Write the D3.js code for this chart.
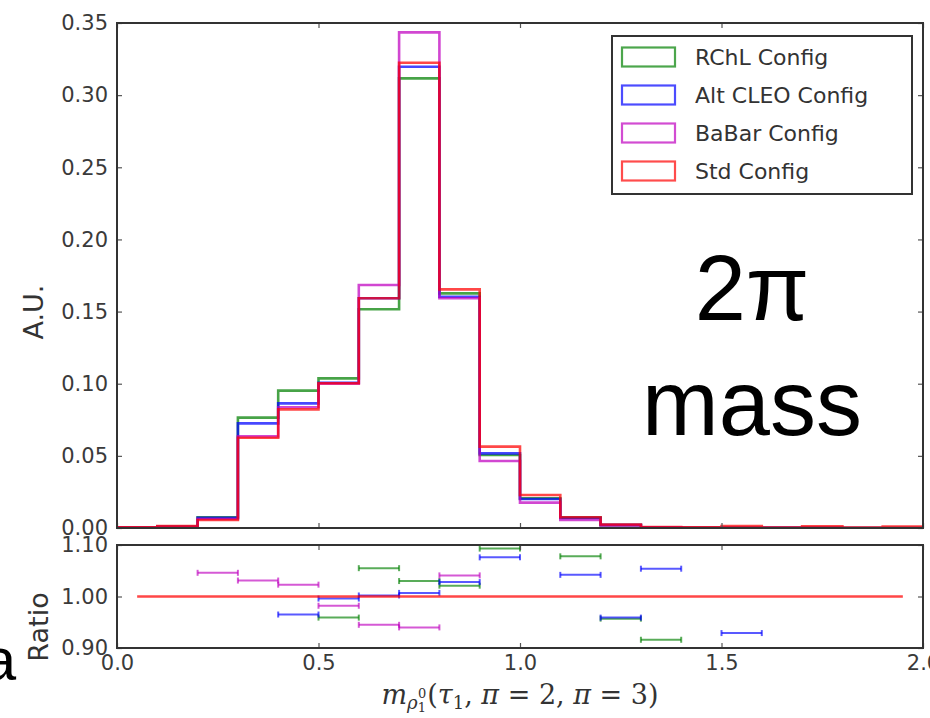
<!DOCTYPE html>
<html>
<head>
<meta charset="utf-8">
<script src="https://cdn.jsdelivr.net/npm/d3@7/dist/d3.min.js"></script>
<style>
  html, body { margin: 0; padding: 0; background: #fff; }
  svg { display: block; }
</style>
</head>
<body>
<svg id="chart" width="930" height="718"></svg>
<script>
// Bin edges of the 2-pion invariant mass histogram (GeV)
const binEdges = [0.0, 0.1, 0.2, 0.3, 0.4, 0.5, 0.6, 0.7, 0.8, 0.9, 1.0,
                  1.1, 1.2, 1.3, 1.4, 1.5, 1.6, 1.7, 1.8, 1.9, 2.0];

// Normalised bin contents (A.U.) for each configuration
const rchlValues    = [0.0003, 0.0008, 0.0075, 0.0765, 0.0952, 0.1037, 0.1516, 0.3116, 0.1626, 0.0506,
                       0.0205, 0.0072, 0.0020, 0.0004, 0.0002, 0.0001, 0.0001, 0.0001, 0.0000, 0.0000];
const altCleoValues = [0.0003, 0.0008, 0.0070, 0.0725, 0.0864, 0.1007, 0.1592, 0.3197, 0.1603, 0.0517,
                       0.0201, 0.0070, 0.0022, 0.0005, 0.0002, 0.0001, 0.0001, 0.0001, 0.0000, 0.0000];
const babarValues   = [0.0003, 0.0008, 0.0062, 0.0635, 0.0837, 0.1000, 0.1684, 0.3435, 0.1592, 0.0464,
                       0.0176, 0.0055, 0.0018, 0.0004, 0.0002, 0.0001, 0.0001, 0.0001, 0.0000, 0.0000];
const stdValues     = [0.0004, 0.0014, 0.0055, 0.0626, 0.0822, 0.1003, 0.1592, 0.3225, 0.1654, 0.0564,
                       0.0229, 0.0074, 0.0024, 0.0006, 0.0004, 0.0013, 0.0003, 0.0012, 0.0003, 0.0010];

// Ratio to the standard configuration, per bin centre (points outside 0.9-1.1 are not shown)
const rchlRatioX    = [0.55, 0.65, 0.75, 0.85, 0.95, 1.15, 1.25, 1.35];
const rchlRatio     = [0.959, 1.055, 1.030, 1.021, 1.093, 1.078, 0.957, 0.916];
const altCleoRatioX = [0.45, 0.55, 0.65, 0.75, 0.85, 0.95, 1.15, 1.25, 1.35, 1.55];
const altCleoRatio  = [0.965, 0.996, 1.002, 1.007, 1.028, 1.076, 1.042, 0.959, 1.054, 0.929];
const babarRatioX   = [0.25, 0.35, 0.45, 0.55, 0.65, 0.75, 0.85];
const babarRatio    = [1.046, 1.031, 1.023, 0.982, 0.945, 0.940, 1.041];
const stdRatioX     = [0.05, 0.15, 0.25, 0.35, 0.45, 0.55, 0.65, 0.75, 0.85, 0.95,
                       1.05, 1.15, 1.25, 1.35, 1.45, 1.55, 1.65, 1.75, 1.85, 1.95];
const stdRatio      = [1, 1, 1, 1, 1, 1, 1, 1, 1, 1, 1, 1, 1, 1, 1, 1, 1, 1, 1, 1];

const halfBin = 0.05;

const seriesNames = ["RChL Config", "Alt CLEO Config", "BaBar Config", "Std Config"];
const seriesColors = ["#008000", "#0000ff", "#bf00bf", "#ff0000"];

const mainTicks  = [0.00, 0.05, 0.10, 0.15, 0.20, 0.25, 0.30, 0.35];
const ratioTicks = [0.90, 1.00, 1.10];
const xTicks     = [0.0, 0.5, 1.0, 1.5, 2.0];

// ---------------------------------------------------------------
const svg = d3.select("#chart");
const frame = { left: 117, right: 923, mainTop: 23, mainBottom: 528, ratioTop: 545, ratioBottom: 648 };
const ink = "#333";
const tickFont = "DejaVu Sans, sans-serif";

const x = d3.scaleLinear().domain([0, 2]).range([frame.left, frame.right]);
const yMain = d3.scaleLinear().domain([0, 0.35]).range([frame.mainBottom, frame.mainTop]);
const yRatio = d3.scaleLinear().domain([0.9, 1.1]).range([frame.ratioBottom, frame.ratioTop]);

const histograms = [
  { name: seriesNames[0], color: seriesColors[0], values: rchlValues },
  { name: seriesNames[1], color: seriesColors[1], values: altCleoValues },
  { name: seriesNames[2], color: seriesColors[2], values: babarValues },
  { name: seriesNames[3], color: seriesColors[3], values: stdValues }
];

// step outline of a histogram, closed down to zero at both ends
function stepPoints(values) {
  const pts = [[binEdges[0], 0]];
  values.forEach((v, i) => {
    pts.push([binEdges[i], v]);
    pts.push([binEdges[i + 1], v]);
  });
  pts.push([binEdges[binEdges.length - 1], 0]);
  return pts;
}
const stepLine = d3.line().x(d => x(d[0])).y(d => yMain(d[1]));

svg.append("defs").append("clipPath").attr("id", "mainClip")
  .append("rect").attr("x", frame.left).attr("y", frame.mainTop)
  .attr("width", frame.right - frame.left).attr("height", frame.mainBottom - frame.mainTop);
svg.select("defs").append("clipPath").attr("id", "ratioClip")
  .append("rect").attr("x", frame.left).attr("y", frame.ratioTop)
  .attr("width", frame.right - frame.left).attr("height", frame.ratioBottom - frame.ratioTop);

const histLayer = svg.append("g").attr("clip-path", "url(#mainClip)");
histograms.forEach(h => {
  histLayer.append("path")
    .attr("d", stepLine(stepPoints(h.values)))
    .attr("fill", "none")
    .attr("stroke", h.color)
    .attr("stroke-opacity", 0.72)
    .attr("stroke-width", 2.6)
    .attr("stroke-linejoin", "miter");
});

// ratio panel: horizontal error bars with end caps
const ratioSets = [
  { color: seriesColors[0], xs: rchlRatioX, ys: rchlRatio },
  { color: seriesColors[1], xs: altCleoRatioX, ys: altCleoRatio },
  { color: seriesColors[2], xs: babarRatioX, ys: babarRatio }
];
const ratioLayer = svg.append("g").attr("clip-path", "url(#ratioClip)");
ratioSets.forEach(s => {
  const g = ratioLayer.append("g")
    .attr("stroke", s.color).attr("stroke-opacity", 0.65).attr("stroke-width", 2);
  s.xs.forEach((cx, i) => {
    const yy = yRatio(s.ys[i]);
    const x0 = x(cx - halfBin), x1 = x(cx + halfBin);
    g.append("line").attr("x1", x0).attr("x2", x1).attr("y1", yy).attr("y2", yy);
    g.append("line").attr("x1", x0).attr("x2", x0).attr("y1", yy - 3).attr("y2", yy + 3);
    g.append("line").attr("x1", x1).attr("x2", x1).attr("y1", yy - 3).attr("y2", yy + 3);
  });
});
ratioLayer.append("path")
  .attr("d", d3.line().x((d, i) => x(stdRatioX[i])).y(d => yRatio(d))(stdRatio))
  .attr("fill", "none")
  .attr("stroke", seriesColors[3]).attr("stroke-opacity", 0.72).attr("stroke-width", 2.6);

// axes: inward ticks on all four sides
function styleAxis(g) {
  g.select(".domain").remove();
  g.selectAll(".tick line").attr("stroke", "#555").attr("stroke-width", 1.2);
  g.selectAll(".tick text").attr("fill", "#3a3a3a").attr("font-family", tickFont).attr("font-size", 21);
}
const fmt2 = d3.format(".2f"), fmt1 = d3.format(".1f");

svg.append("g").attr("transform", `translate(${frame.left},0)`)
  .call(d3.axisLeft(yMain).tickValues(mainTicks).tickFormat(fmt2).tickSize(-5).tickPadding(9)).call(styleAxis);
svg.append("g").attr("transform", `translate(${frame.right},0)`)
  .call(d3.axisRight(yMain).tickValues(mainTicks).tickFormat("").tickSize(-5)).call(styleAxis);
svg.append("g").attr("transform", `translate(0,${frame.mainTop})`)
  .call(d3.axisTop(x).tickValues(xTicks).tickFormat("").tickSize(-5)).call(styleAxis);
svg.append("g").attr("transform", `translate(0,${frame.mainBottom})`)
  .call(d3.axisBottom(x).tickValues(xTicks).tickFormat("").tickSize(-5)).call(styleAxis);

svg.append("g").attr("transform", `translate(${frame.left},0)`)
  .call(d3.axisLeft(yRatio).tickValues(ratioTicks).tickFormat(fmt2).tickSize(-5).tickPadding(9)).call(styleAxis);
svg.append("g").attr("transform", `translate(${frame.right},0)`)
  .call(d3.axisRight(yRatio).tickValues(ratioTicks).tickFormat("").tickSize(-5)).call(styleAxis);
svg.append("g").attr("transform", `translate(0,${frame.ratioTop})`)
  .call(d3.axisTop(x).tickValues(xTicks).tickFormat("").tickSize(-5)).call(styleAxis);
svg.append("g").attr("transform", `translate(0,${frame.ratioBottom})`)
  .call(d3.axisBottom(x).tickValues(xTicks).tickFormat(fmt1).tickSize(-5).tickPadding(7)).call(styleAxis);

// panel frames
[[frame.mainTop, frame.mainBottom], [frame.ratioTop, frame.ratioBottom]].forEach(([t, b]) => {
  svg.append("rect").attr("x", frame.left).attr("y", t)
    .attr("width", frame.right - frame.left).attr("height", b - t)
    .attr("fill", "none").attr("stroke", ink).attr("stroke-width", 2);
});

// legend
const legend = svg.append("g");
legend.append("rect").attr("x", 612).attr("y", 36).attr("width", 300).attr("height", 158)
  .attr("fill", "#fff").attr("stroke", ink).attr("stroke-width", 2);
histograms.forEach((h, i) => {
  const cy = 57 + i * 38;
  legend.append("rect").attr("x", 622).attr("y", cy - 9.5).attr("width", 53).attr("height", 19)
    .attr("fill", "none").attr("stroke", h.color).attr("stroke-opacity", 0.7).attr("stroke-width", 2.2);
  legend.append("text").attr("x", 695).attr("y", cy).attr("dy", "0.36em")
    .attr("font-family", tickFont).attr("font-size", 22).attr("fill", "#333").text(h.name);
});

// axis titles
svg.append("text").attr("transform", "translate(43,312) rotate(-90)")
  .attr("text-anchor", "middle").attr("font-family", tickFont).attr("font-size", 27)
  .attr("fill", "#333").text("A.U.");
svg.append("text").attr("transform", "translate(48,627) rotate(-90)")
  .attr("text-anchor", "middle").attr("font-family", tickFont).attr("font-size", 27)
  .attr("fill", "#333").text("Ratio");

const xl = svg.append("text").attr("x", 520).attr("y", 704).attr("text-anchor", "middle")
  .attr("font-family", "DejaVu Serif, serif").attr("font-size", 27).attr("fill", "#333");
xl.append("tspan").attr("font-style", "italic").text("m");
xl.append("tspan").attr("font-style", "italic").attr("font-size", 18).attr("dy", 5).text("ρ");
xl.append("tspan").attr("font-size", 13).attr("dy", 3).text("1");
xl.append("tspan").attr("font-size", 13).attr("dx", -8).attr("dy", -14).text("0");
xl.append("tspan").attr("dy", 6).attr("dx", 1).text("(");
xl.append("tspan").attr("font-style", "italic").text("τ");
xl.append("tspan").attr("font-size", 18).attr("dy", 5).text("1");
xl.append("tspan").attr("dy", -5).text(", ");
xl.append("tspan").attr("font-style", "italic").text("π");
xl.append("tspan").text(" = 2, ");
xl.append("tspan").attr("font-style", "italic").text("π");
xl.append("tspan").text(" = 3)");

// slide annotations
const note = "Liberation Sans, Arial, Helvetica, sans-serif";
svg.append("text").attr("x", 752).attr("y", 320).attr("text-anchor", "middle")
  .attr("font-family", note).attr("font-weight", 300).attr("font-size", 92).attr("fill", "#000").text("2π");
svg.append("text").attr("x", 752).attr("y", 435).attr("text-anchor", "middle")
  .attr("font-family", note).attr("font-weight", 300).attr("font-size", 92).attr("fill", "#000").text("mass");
svg.append("text").attr("x", 16).attr("y", 680).attr("text-anchor", "end")
  .attr("font-family", note).attr("font-weight", 300).attr("font-size", 60).attr("fill", "#000").text("a");
</script>
</body>
</html>
